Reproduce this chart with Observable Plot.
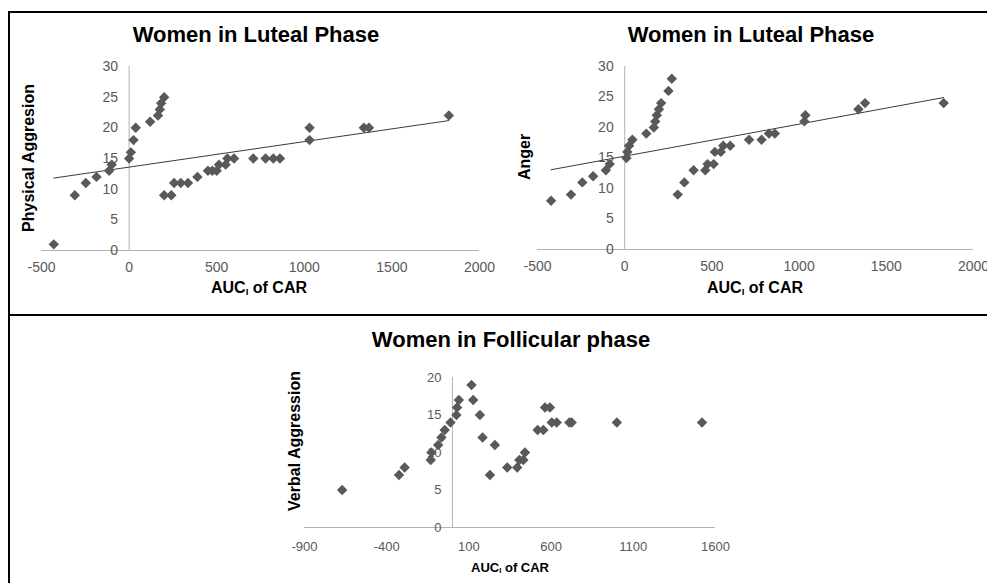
<!DOCTYPE html>
<html>
<head>
<meta charset="utf-8">
<script src="https://cdn.jsdelivr.net/npm/d3@7"></script>
<script src="https://cdn.jsdelivr.net/npm/@observablehq/plot@0.6"></script>
<style>
  html, body { margin: 0; padding: 0; background: #fff; }
  #root { position: relative; width: 987px; height: 583px; overflow: hidden; font-family: "Liberation Sans", Arial, sans-serif; }
  .abs { position: absolute; }
  .lbl { position: absolute; transform: translate(-50%, -50%); white-space: nowrap; font-weight: bold; color: #000; }
  .lbl sub { font-size: 60%; vertical-align: -0.25em; line-height: 0; }
  .rot { transform: translate(-50%, -50%) rotate(-90deg); }
  .line { position: absolute; background: #000; }
</style>
</head>
<body>
<div id="root"></div>
<script>
// ---- Data ----
// Panel 1: Women in Luteal Phase, Physical Aggresion vs AUCi of CAR
const paX = [-430,-310,-247,-186,-114,-99,0,10,25,38,120,165,175,183,200,200,241,257,295,336,390,450,475,500,513,551,561,599,709,779,823,861,1030,1030,1340,1369,1825];
const paY = [1,9,11,12,13,14,15,16,18,20,21,22,23,24,25,9,9,11,11,11,12,13,13,13,14,14,15,15,15,15,15,15,18,20,20,20,22];
// Panel 2: Women in Luteal Phase, Anger vs AUCi of CAR
const anX = [-422,-308,-243,-181,-108,-86,10,15,25,44,124,167,175,184,196,209,251,270,304,342,395,462,475,510,517,551,565,605,713,785,827,861,1030,1036,1340,1378,1829];
const anY = [8,9,11,12,13,14,15,16,17,18,19,20,21,22,23,24,26,28,9,11,13,13,14,14,16,16,17,17,18,18,19,19,21,22,23,24,24];
// Panel 3: Women in Follicular phase, Verbal Aggression vs AUCi of CAR
const vaX = [-671,-325,-291,-132,-128,-87,-67,-47,-12,24,28,39,116,126,167,183,258,228,333,394,407,431,441,518,553,563,593,604,634,711,725,1000,1518];
const vaY = [5,7,8,9,10,11,12,13,14,15,16,17,19,17,15,12,11,7,8,8,9,9,10,13,13,16,16,14,14,14,14,14,14];

// Tick labels
const xTicksTop = [-500,0,500,1000,1500,2000];
const yTicksTop = [0,5,10,15,20,25,30];
const xTicksBottom = [-900,-400,100,600,1100,1600];
const yTicksBottom = [0,5,10,15,20];

const pointColor = "#595959";
const axisColor = "#b3b3b3";
const tickColor = "#595959";

const root = document.getElementById("root");

function panel(o) {
  const data = o.xs.map((x, i) => ({x, y: o.ys[i]}));
  const marks = [
    Plot.ruleY([0], {stroke: axisColor, strokeWidth: 1}),
    Plot.ruleX([0], {stroke: axisColor, strokeWidth: 1}),
    Plot.text(o.xTicks, {x: d => d, y: () => o.yDomain[0], dy: o.xLabelDy, text: d => String(d), fill: tickColor, fontSize: o.fontSize}),
    Plot.text(o.yTicks, {x: () => 0, y: d => d, dx: -11, textAnchor: "end", text: d => String(d), fill: tickColor, fontSize: o.fontSize})
  ];
  if (o.trend) marks.push(Plot.linearRegressionY(data, {x: "x", y: "y", stroke: "#3a3a3a", strokeWidth: 1, ci: 0}));
  marks.push(Plot.dot(data, {x: "x", y: "y", symbol: "diamond2", fill: pointColor, stroke: "none", r: 4.7}));
  const svg = Plot.plot({
    width: o.width, height: o.height,
    marginLeft: o.ml, marginRight: o.mr, marginTop: o.mt, marginBottom: o.mb,
    x: {domain: o.xDomain, axis: null},
    y: {domain: o.yDomain, axis: null},
    style: {fontFamily: '"Liberation Sans", Arial, sans-serif', overflow: "visible", background: "transparent"},
    marks
  });
  svg.style.position = "absolute";
  svg.style.left = o.left + "px";
  svg.style.top = o.top + "px";
  root.appendChild(svg);
}

panel({xs: paX, ys: paY, xDomain: [-500, 2000], yDomain: [0, 30], xTicks: xTicksTop, yTicks: yTicksTop,
  left: 9, top: 12, width: 484, height: 303, ml: 32, mr: 14, mt: 54, mb: 65, fontSize: 14, xLabelDy: 17, trend: true});
panel({xs: anX, ys: anY, xDomain: [-500, 2000], yDomain: [0, 30], xTicks: xTicksTop, yTicks: yTicksTop,
  left: 493, top: 12, width: 494, height: 303, ml: 44, mr: 14, mt: 54, mb: 66, fontSize: 14, xLabelDy: 17, trend: true});
panel({xs: vaX, ys: vaY, xDomain: [-900, 1600], yDomain: [0, 20], xTicks: xTicksBottom, yTicks: yTicksBottom,
  left: 9, top: 315, width: 978, height: 268, ml: 295, mr: 272, mt: 62, mb: 56, fontSize: 13, xLabelDy: 19, trend: false});

function label(text, x, y, size, rotate, html) {
  const d = document.createElement("div");
  d.className = "lbl" + (rotate ? " rot" : "");
  d.style.left = x + "px";
  d.style.top = y + "px";
  d.style.fontSize = size + "px";
  if (html) d.innerHTML = text; else d.textContent = text;
  root.appendChild(d);
}
function line(x, y, w, h) {
  const d = document.createElement("div");
  d.className = "line";
  d.style.left = x + "px"; d.style.top = y + "px";
  d.style.width = w + "px"; d.style.height = h + "px";
  root.appendChild(d);
}

// Frame lines
line(8, 11, 979, 2);
line(8, 11, 2, 572);
line(8, 314, 979, 2);

// Titles and axis labels
label("Women in Luteal Phase", 256, 35, 22);
label("Physical Aggresion", 29, 158, 16, true);
label("AUC<sub>I</sub> of CAR", 259, 288, 16, false, true);

label("Women in Luteal Phase", 751, 35, 22);
label("Anger", 525, 157, 16, true);
label("AUC<sub>I</sub> of CAR", 755, 288, 16, false, true);

label("Women in Follicular phase", 511, 340, 22);
label("Verbal Aggression", 295, 441, 16, true);
label("AUC<sub>I</sub> of CAR", 510, 567, 13, false, true);
</script>
</body>
</html>
